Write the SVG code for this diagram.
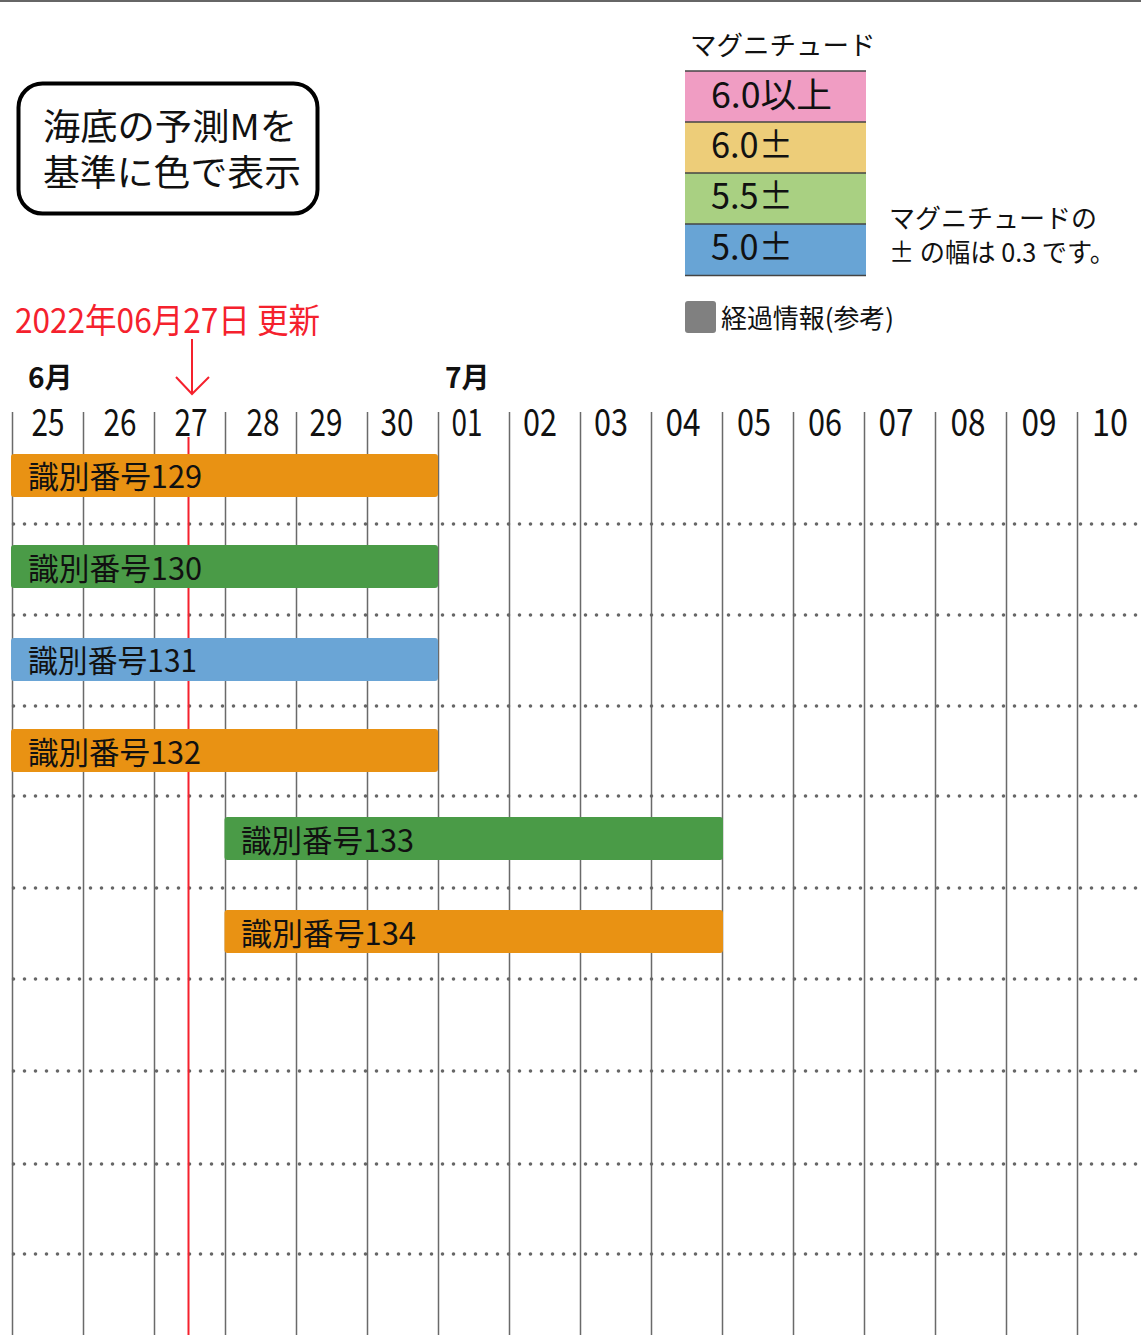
<svg xmlns="http://www.w3.org/2000/svg" width="1141" height="1335" viewBox="0 0 1141 1335">
<style>
text{font-family:"Noto Sans CJK JP","Noto Sans",sans-serif;fill:#111}
.day{font-size:38px;text-anchor:middle}
.vl{stroke:#6a6a6a;stroke-width:1.5}
.dot{stroke:#666;stroke-width:3.6;stroke-linecap:round;stroke-dasharray:0 11;fill:none}
.bar{stroke:none}
.lbl{font-size:31px}
.leg{font-size:35px}
.sep{stroke:#444;stroke-width:1.5}
.red{stroke:#F5212D;fill:none;stroke-width:2}
</style>
<rect width="1141" height="1335" fill="#fff"/>
<line x1="0" y1="1" x2="1141" y2="1" stroke="#666" stroke-width="2"/>

<g id="title">
<rect x="18.5" y="83.5" width="299" height="130" rx="24" fill="#fff" stroke="#000" stroke-width="4"/>
<text x="43" y="140" font-size="36" textLength="254" lengthAdjust="spacingAndGlyphs">海底の予測Mを</text>
<text x="43" y="186" font-size="36" textLength="258" lengthAdjust="spacingAndGlyphs">基準に色で表示</text>
</g>

<g id="legend">
<text x="690" y="55" font-size="26.5">マグニチュード</text>
<rect x="685" y="71" width="181" height="51" fill="#F09DC3"/>
<rect x="685" y="122" width="181" height="51" fill="#EDCD79"/>
<rect x="685" y="173" width="181" height="51" fill="#A9D082"/>
<rect x="685" y="224" width="181" height="51.5" fill="#68A4D5"/>
<line class="sep" x1="685" y1="71" x2="866" y2="71"/>
<line class="sep" x1="685" y1="122" x2="866" y2="122"/>
<line class="sep" x1="685" y1="173" x2="866" y2="173"/>
<line class="sep" x1="685" y1="224" x2="866" y2="224"/>
<line class="sep" x1="685" y1="275.5" x2="866" y2="275.5"/>
<text class="leg" x="711" y="108" textLength="121" lengthAdjust="spacingAndGlyphs">6.0以上</text>
<text class="leg" x="711" y="158" textLength="82" lengthAdjust="spacingAndGlyphs">6.0±</text>
<text class="leg" x="711" y="209" textLength="82" lengthAdjust="spacingAndGlyphs">5.5±</text>
<text class="leg" x="711" y="260" textLength="82" lengthAdjust="spacingAndGlyphs">5.0±</text>
<text x="889" y="228" font-size="26">マグニチュードの</text>
<text x="889" y="262" font-size="26" textLength="226" lengthAdjust="spacingAndGlyphs">± の幅は 0.3 です。</text>
<rect x="685" y="301" width="31" height="32" rx="3" fill="#808080"/>
<text x="721" y="328" font-size="26" textLength="173" lengthAdjust="spacingAndGlyphs">経過情報(参考)</text>
</g>

<g id="update">
<text x="15" y="333" font-size="34" style="fill:#F5212D" textLength="305" lengthAdjust="spacingAndGlyphs">2022年06月27日 更新</text>
<line class="red" x1="192" y1="339" x2="192" y2="394"/>
<polyline class="red" points="176,377 192,394 209,377"/>
</g>

<g id="months">
<text x="28" y="388" font-size="28" font-weight="bold">6月</text>
<text x="445" y="388" font-size="28" font-weight="bold">7月</text>
</g>

<g id="grid">
<line class="vl" x1="12.5" y1="412" x2="12.5" y2="1335"/>
<line class="vl" x1="83.5" y1="412" x2="83.5" y2="1335"/>
<line class="vl" x1="154.5" y1="412" x2="154.5" y2="1335"/>
<line class="vl" x1="225.5" y1="412" x2="225.5" y2="1335"/>
<line class="vl" x1="296.5" y1="412" x2="296.5" y2="1335"/>
<line class="vl" x1="367.5" y1="412" x2="367.5" y2="1335"/>
<line class="vl" x1="438.5" y1="412" x2="438.5" y2="1335"/>
<line class="vl" x1="509.5" y1="412" x2="509.5" y2="1335"/>
<line class="vl" x1="580.5" y1="412" x2="580.5" y2="1335"/>
<line class="vl" x1="651.5" y1="412" x2="651.5" y2="1335"/>
<line class="vl" x1="722.5" y1="412" x2="722.5" y2="1335"/>
<line class="vl" x1="793.5" y1="412" x2="793.5" y2="1335"/>
<line class="vl" x1="864.5" y1="412" x2="864.5" y2="1335"/>
<line class="vl" x1="935.5" y1="412" x2="935.5" y2="1335"/>
<line class="vl" x1="1006.5" y1="412" x2="1006.5" y2="1335"/>
<line class="vl" x1="1077.5" y1="412" x2="1077.5" y2="1335"/>
<line class="dot" x1="13.5" y1="524" x2="1141" y2="524"/>
<line class="dot" x1="13.5" y1="615" x2="1141" y2="615"/>
<line class="dot" x1="13.5" y1="706" x2="1141" y2="706"/>
<line class="dot" x1="13.5" y1="796" x2="1141" y2="796"/>
<line class="dot" x1="13.5" y1="888" x2="1141" y2="888"/>
<line class="dot" x1="13.5" y1="979" x2="1141" y2="979"/>
<line class="dot" x1="13.5" y1="1071" x2="1141" y2="1071"/>
<line class="dot" x1="13.5" y1="1164" x2="1141" y2="1164"/>
<line class="dot" x1="13.5" y1="1254" x2="1141" y2="1254"/>
</g>

<g id="days">
<text class="day" x="48" y="436" textLength="33" lengthAdjust="spacingAndGlyphs">25</text>
<text class="day" x="120" y="436" textLength="33" lengthAdjust="spacingAndGlyphs">26</text>
<text class="day" x="191" y="436" textLength="33" lengthAdjust="spacingAndGlyphs">27</text>
<text class="day" x="263" y="436" textLength="33" lengthAdjust="spacingAndGlyphs">28</text>
<text class="day" x="326" y="436" textLength="33" lengthAdjust="spacingAndGlyphs">29</text>
<text class="day" x="397" y="436" textLength="33" lengthAdjust="spacingAndGlyphs">30</text>
<text class="day" x="467" y="436" textLength="31" lengthAdjust="spacingAndGlyphs">01</text>
<text class="day" x="540" y="436" textLength="34" lengthAdjust="spacingAndGlyphs">02</text>
<text class="day" x="611" y="436" textLength="34" lengthAdjust="spacingAndGlyphs">03</text>
<text class="day" x="683" y="436" textLength="35" lengthAdjust="spacingAndGlyphs">04</text>
<text class="day" x="754" y="436" textLength="34" lengthAdjust="spacingAndGlyphs">05</text>
<text class="day" x="825" y="436" textLength="34" lengthAdjust="spacingAndGlyphs">06</text>
<text class="day" x="896" y="436" textLength="35" lengthAdjust="spacingAndGlyphs">07</text>
<text class="day" x="968" y="436" textLength="35" lengthAdjust="spacingAndGlyphs">08</text>
<text class="day" x="1039" y="436" textLength="35" lengthAdjust="spacingAndGlyphs">09</text>
<text class="day" x="1110" y="436" textLength="36" lengthAdjust="spacingAndGlyphs">10</text>
</g>

<g id="today-line">
<line x1="188.5" y1="437" x2="188.5" y2="1335" stroke="#F5212D" stroke-width="2"/>
</g>

<g id="bar129"><rect class="bar" x="11" y="454" width="427" height="43" rx="3" fill="#E99213"/><text class="lbl" x="28" y="488" textLength="174" lengthAdjust="spacingAndGlyphs">識別番号129</text></g>
<g id="bar130"><rect class="bar" x="11" y="545" width="427" height="43" rx="3" fill="#4A9B47"/><text class="lbl" x="28" y="580" textLength="174" lengthAdjust="spacingAndGlyphs">識別番号130</text></g>
<g id="bar131"><rect class="bar" x="11" y="638" width="427" height="43" rx="3" fill="#6AA5D6"/><text class="lbl" x="28" y="672" textLength="169" lengthAdjust="spacingAndGlyphs">識別番号131</text></g>
<g id="bar132"><rect class="bar" x="11" y="729" width="427" height="43" rx="3" fill="#E99213"/><text class="lbl" x="28" y="764" textLength="173" lengthAdjust="spacingAndGlyphs">識別番号132</text></g>
<g id="bar133"><rect class="bar" x="224.5" y="817" width="498.5" height="43" rx="3" fill="#4A9B47"/><text class="lbl" x="241" y="852" textLength="173" lengthAdjust="spacingAndGlyphs">識別番号133</text></g>
<g id="bar134"><rect class="bar" x="224.5" y="910" width="498.5" height="43" rx="3" fill="#E99213"/><text class="lbl" x="241" y="945" textLength="175" lengthAdjust="spacingAndGlyphs">識別番号134</text></g>
</svg>
